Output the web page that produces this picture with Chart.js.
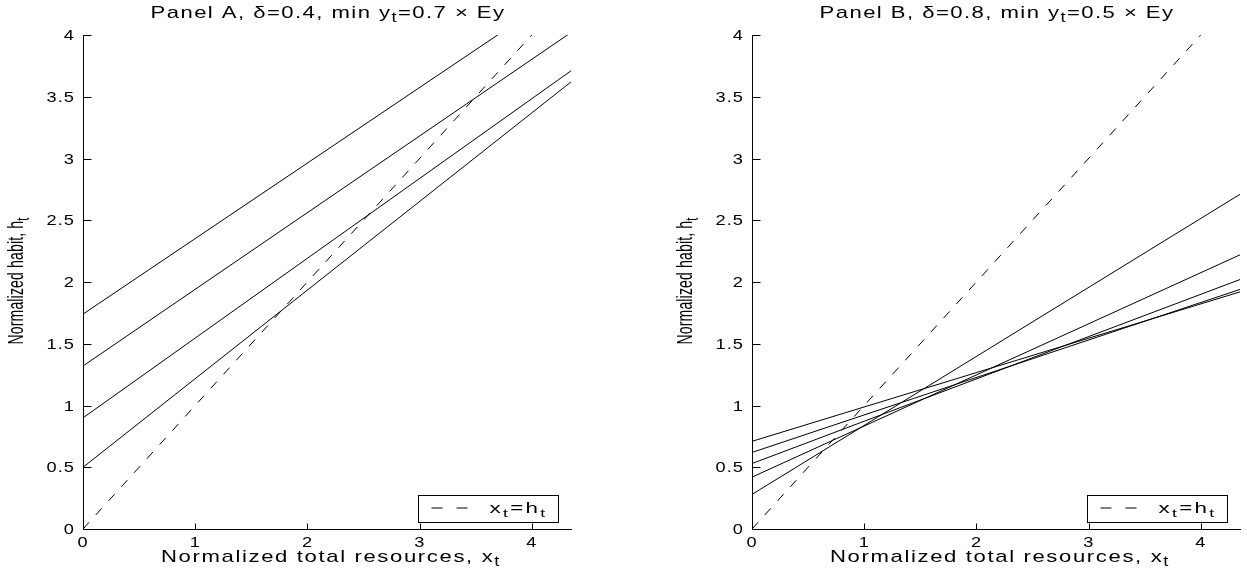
<!DOCTYPE html>
<html>
<head>
<meta charset="utf-8">
<script src="https://cdn.jsdelivr.net/npm/chart.js@4.4.1/dist/chart.umd.min.js"></script>
<style>
  html, body { margin:0; padding:0; background:#fff; overflow:hidden; width:1247px; height:575px; }
  .wrap { position:absolute; top:0; height:575px; }
  canvas { display:block; }
</style>
</head>
<body>
<div class="wrap" style="left:0;width:620px"><canvas id="cA" width="620" height="575"></canvas></div>
<div class="wrap" style="left:669px;width:578px"><canvas id="cB" width="578" height="575"></canvas></div>
<script>
// ---------------- data ----------------
const xGrid = [0, 4.35];            // x values where each policy line is read
const diagX = [0, 4];               // 45-degree line x_t = h_t
const diagY = [0, 4];

// Panel A (delta = 0.4): four lines
const panelA_line1 = [1.74, 4.40];
const panelA_line2 = [1.32, 4.02];
const panelA_line3 = [0.90, 3.71];
const panelA_line4 = [0.50, 3.62];

// Panel B (delta = 0.8): five lines
const panelB_line1 = [0.28, 2.71];
const panelB_line2 = [0.42, 2.22];
const panelB_line3 = [0.53, 2.02];
const panelB_line4 = [0.62, 1.94];
const panelB_line5 = [0.71, 1.92];

const xTickValues = [0, 1, 2, 3, 4];
const xTickLabels = ['0', '1', '2', '3', '4'];
const yTickValues = [0, 0.5, 1, 1.5, 2, 2.5, 3, 3.5, 4];
const yTickLabels = ['0', '0.5', '1', '1.5', '2', '2.5', '3', '3.5', '4'];

const titleA = [{t:'Panel A, \u03b4=0.4, min y'}, {t:'t', sub:true}, {t:'=0.7 \u00d7 Ey'}];
const titleB = [{t:'Panel B, \u03b4=0.8, min y'}, {t:'t', sub:true}, {t:'=0.5 \u00d7 Ey'}];
const xLabel = [{t:'Normalized total resources, x'}, {t:'t', sub:true}];
const yLabel = [{t:'Normalized habit, h'}, {t:'t', sub:true}];
const legendLabel = [{t:'x'}, {t:'t', sub:true}, {t:'=h'}, {t:'t', sub:true}];

// ---------------- helpers ----------------
const FONT = '"Liberation Sans", Arial, Helvetica, sans-serif';

function pts(xs, ys) { return xs.map((x, i) => ({x: x, y: ys[i]})); }

function drawRich(ctx, parts, x, y, o) {
  ctx.save();
  const size = o.size, subSize = o.subSize || Math.round(size * 0.8), subDy = o.subDy || 4;
  let natural = 0, n = 0;
  const widths = [];
  for (const p of parts) {
    ctx.font = (p.sub ? subSize : size) + 'px ' + FONT;
    try { ctx.letterSpacing = '0px'; } catch (e) {}
    const w = ctx.measureText(p.t).width;
    widths.push(w); natural += w; n += [...p.t].length;
  }
  const sx = o.sx || 1;
  const along = o.rotate ? 1 : sx;
  let ls = o.ls || 0;
  if (o.target) ls = Math.max(0, (o.target / along - natural) / n);
  const total = natural + ls * n;
  ctx.translate(x, y);
  ctx.scale(sx, 1);
  if (o.rotate) ctx.rotate(-Math.PI / 2);
  let cx = o.align === 'center' ? -total / 2 : (o.align === 'right' ? -total : 0);
  ctx.fillStyle = '#000';
  ctx.textAlign = 'left';
  ctx.textBaseline = 'alphabetic';
  parts.forEach((p, i) => {
    ctx.font = (p.sub ? subSize : size) + 'px ' + FONT;
    try { ctx.letterSpacing = ls + 'px'; } catch (e) {}
    ctx.fillText(p.t, cx, p.sub ? subDy : 0);
    cx += widths[i] + ls * [...p.t].length;
  });
  ctx.restore();
}

function decorPlugin(title) {
  return {
    id: 'decor',
    afterDraw(chart) {
      const ctx = chart.ctx, ca = chart.chartArea;
      const xs = chart.scales.x, ys = chart.scales.y;
      const L = Math.round(ca.left) + 0.5, B = Math.round(ca.bottom) + 0.5;
      ctx.save();
      ctx.strokeStyle = '#000';
      ctx.lineWidth = 1;
      ctx.setLineDash([]);
      // inward tick marks
      ctx.beginPath();
      xs.ticks.forEach(t => {
        const px = Math.round(xs.getPixelForValue(t.value)) + 0.5;
        ctx.moveTo(px, B); ctx.lineTo(px, B - 6);
      });
      ys.ticks.forEach(t => {
        const py = Math.round(ys.getPixelForValue(t.value)) + 0.5;
        ctx.moveTo(L, py); ctx.lineTo(L + 8, py);
      });
      ctx.stroke();
      ctx.restore();
      // tick labels
      xs.ticks.forEach((t, i) => {
        drawRich(ctx, [{t: xTickLabels[i]}], xs.getPixelForValue(t.value), ca.bottom + 18,
          {size: 14, sx: 1.3, ls: 0.5, align: 'center'});
      });
      ys.ticks.forEach((t, i) => {
        drawRich(ctx, [{t: yTickLabels[i]}], ca.left - 8, ys.getPixelForValue(t.value) + 5,
          {size: 14, sx: 1.3, ls: 0.8, align: 'right'});
      });
      const cxm = (ca.left + ca.right) / 2;
      // title
      drawRich(ctx, title, cxm + 1, 18, {size: 17, sx: 1.3, target: 355, align: 'center', subDy: 4});
      // x label
      drawRich(ctx, xLabel, cxm + 4, 562, {size: 17, sx: 1.3, target: 340, align: 'center', subDy: 4});
      // y label (rotated)
      drawRich(ctx, yLabel, ca.left - 60, (ca.top + ca.bottom) / 2 - 1,
        {size: 14, sx: 1.6, target: 127, align: 'center', rotate: true, subDy: 4});
      // legend
      const bw = 140, bh = 27;
      const bx = Math.round(ca.right - 13 - bw) + 0.5, by = Math.round(ca.bottom - 7.5 - bh) + 0.5;
      ctx.save();
      ctx.fillStyle = '#fff';
      ctx.fillRect(bx, by, bw, bh);
      ctx.strokeStyle = '#000';
      ctx.lineWidth = 1;
      ctx.setLineDash([]);
      ctx.strokeRect(bx, by, bw, bh);
      ctx.setLineDash([11, 14]);
      ctx.beginPath();
      ctx.moveTo(bx + 13, by + 12.5);
      ctx.lineTo(bx + 49, by + 12.5);
      ctx.stroke();
      ctx.restore();
      drawRich(ctx, legendLabel, bx + 71, by + 17, {size: 14, sx: 1.6, target: 58, align: 'left', subDy: 4});
    }
  };
}

function makeChart(id, lines, title, padRight) {
  const datasets = lines.map((ys, i) => ({
    label: 'line' + (i + 1),
    data: pts(xGrid, ys),
    showLine: true,
    borderColor: '#000',
    borderWidth: 1,
    pointRadius: 0,
    pointHoverRadius: 0,
    fill: false,
    tension: 0
  }));
  datasets.push({
    label: 'diag',
    data: pts(diagX, diagY),
    showLine: true,
    borderColor: '#000',
    borderWidth: 1,
    borderDash: [9, 10],
    pointRadius: 0,
    pointHoverRadius: 0,
    fill: false
  });
  const axisCommon = {
    type: 'linear',
    grid: {display: false},
    border: {display: true, color: '#000', width: 1},
    ticks: {display: false}
  };
  return new Chart(document.getElementById(id), {
    type: 'scatter',
    data: {datasets},
    options: {
      responsive: false,
      animation: false,
      devicePixelRatio: 1,
      events: [],
      layout: {padding: {left: 0, top: 35, right: padRight, bottom: 0}},
      plugins: {legend: {display: false}, tooltip: {enabled: false}, title: {display: false}},
      scales: {
        x: Object.assign({}, axisCommon, {
          min: 0, max: 4.35,
          afterBuildTicks: s => { s.ticks = xTickValues.map(v => ({value: v})); },
          afterFit: s => { s.height = 46; }
        }),
        y: Object.assign({}, axisCommon, {
          min: 0, max: 4,
          afterBuildTicks: s => { s.ticks = yTickValues.map(v => ({value: v})); },
          afterFit: s => { s.width = 83; }
        })
      }
    },
    plugins: [decorPlugin(title)]
  });
}

makeChart('cA', [panelA_line1, panelA_line2, panelA_line3, panelA_line4], titleA, 49);
makeChart('cB', [panelB_line1, panelB_line2, panelB_line3, panelB_line4, panelB_line5], titleB, 7);
</script>
</body>
</html>
